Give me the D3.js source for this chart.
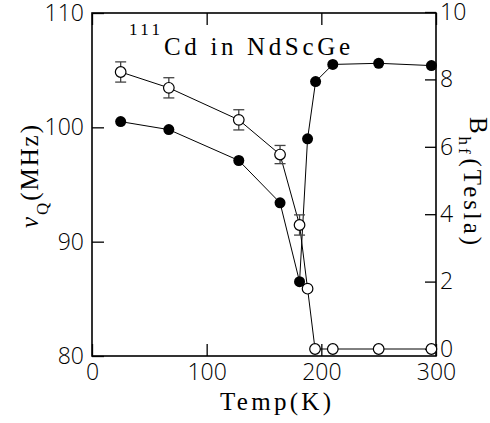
<!DOCTYPE html>
<html>
<head>
<meta charset="utf-8">
<script src="https://cdn.jsdelivr.net/npm/d3@7"></script>
<style>
  body { margin: 0; background: #fff; }
  .tickfont text { font-family: "Open Sans", "DejaVu Sans", sans-serif; font-weight: 300; font-size: 23px; fill: #000; }
  .serif { font-family: "Liberation Serif", "DejaVu Serif", serif; fill: #000; }
</style>
</head>
<body>
<div id="chart"></div>
<script>
// temperatures (K) and values
var tempNu = [25, 67, 128, 164, 181, 188, 195, 210, 250, 296];
var nuQ = [100.5, 99.8, 97.1, 93.4, 86.5, 99.0, 104.0, 105.5, 105.6, 105.4];   // MHz, filled circles

var tempB = [25, 67, 128, 164, 181, 188, 194.5, 210, 250, 296];
var bhf = [8.22, 7.75, 6.80, 5.77, 3.68, 1.79, 0, 0, 0, 0];                    // Tesla, open circles
var bhfErr = [0.3, 0.3, 0.3, 0.27, 0.3, 0, 0, 0, 0, 0];

var xTicks = [0, 100, 200, 300];
var nuTicks = [80, 90, 100, 110];
var bTicks = [0, 2, 4, 6, 8, 10];

var svgWidth = 490;
var svgHeight = 423;

var svg = d3.select("#chart")
  .append("svg")
  .attr("width", svgWidth)
  .attr("height", svgHeight);

var x = d3.scaleLinear().domain([0, 300]).range([92, 436]);
var yNu = d3.scaleLinear().domain([80, 110]).range([356, 13]);
var yB = d3.scaleLinear().domain([0, 10]).range([349, 12]);

// frame
svg.append("rect")
  .attr("x", 92).attr("y", 13)
  .attr("width", 344).attr("height", 343)
  .attr("fill", "none")
  .attr("stroke", "#000")
  .attr("stroke-width", 1.6);

// axes with inward ticks
function styleAxis(g) {
  g.select(".domain").remove();
  g.selectAll(".tick line").attr("stroke", "#000").attr("stroke-width", 1.3);
}

svg.append("g").attr("class", "tickfont")
  .attr("transform", "translate(0,356)")
  .call(d3.axisBottom(x).tickValues(xTicks).tickFormat(d3.format("d")).tickSizeInner(-12).tickSizeOuter(0).tickPadding(8))
  .call(styleAxis);

svg.append("g")
  .attr("transform", "translate(0,13)")
  .call(d3.axisTop(x).tickValues(xTicks).tickFormat("").tickSizeInner(-12).tickSizeOuter(0))
  .call(styleAxis);

svg.append("g").attr("class", "tickfont")
  .attr("transform", "translate(92,0)")
  .call(d3.axisLeft(yNu).tickValues(nuTicks).tickFormat(d3.format("d")).tickSizeInner(-12).tickSizeOuter(0).tickPadding(8))
  .call(styleAxis);

svg.append("g").attr("class", "tickfont")
  .attr("transform", "translate(436,0)")
  .call(d3.axisRight(yB).tickValues(bTicks).tickFormat(d3.format("d")).tickSizeInner(-11).tickSizeOuter(0).tickPadding(4))
  .call(styleAxis);

svg.selectAll(".tickfont .tick text").attr("font-family", null).attr("font-size", null);

// lines
var nuData = tempNu.map(function(t, i) { return {t: t, v: nuQ[i]}; });
var bData = tempB.map(function(t, i) { return {t: t, v: bhf[i], e: bhfErr[i]}; });

svg.append("path")
  .datum(bData)
  .attr("fill", "none").attr("stroke", "#000").attr("stroke-width", 1)
  .attr("d", d3.line().x(d => x(d.t)).y(d => yB(d.v)));

svg.append("path")
  .datum(nuData)
  .attr("fill", "none").attr("stroke", "#000").attr("stroke-width", 1)
  .attr("d", d3.line().x(d => x(d.t)).y(d => yNu(d.v)));

// error bars
var eb = svg.append("g").attr("stroke", "#444").attr("stroke-width", 1.3);
bData.filter(d => d.e > 0).forEach(function(d) {
  var cx = x(d.t);
  eb.append("line").attr("x1", cx).attr("x2", cx).attr("y1", yB(d.v - d.e)).attr("y2", yB(d.v + d.e));
  eb.append("line").attr("x1", cx - 5.5).attr("x2", cx + 5.5).attr("y1", yB(d.v - d.e)).attr("y2", yB(d.v - d.e));
  eb.append("line").attr("x1", cx - 5.5).attr("x2", cx + 5.5).attr("y1", yB(d.v + d.e)).attr("y2", yB(d.v + d.e));
});

// markers
svg.selectAll("circle.nu").data(nuData).enter().append("circle")
  .attr("class", "nu")
  .attr("cx", d => x(d.t))
  .attr("cy", d => yNu(d.v))
  .attr("r", 5.5)
  .attr("fill", "#000");

svg.selectAll("circle.b").data(bData).enter().append("circle")
  .attr("class", "b")
  .attr("cx", d => x(d.t))
  .attr("cy", d => yB(d.v))
  .attr("r", 5.3)
  .attr("fill", "#fff")
  .attr("stroke", "#000")
  .attr("stroke-width", 1.2);

// annotation
svg.append("text").attr("class", "serif")
  .attr("x", 129).attr("y", 35)
  .style("font-size", "17px")
  .attr("textLength", 31).attr("lengthAdjust", "spacing")
  .text("111");

svg.append("text").attr("class", "serif")
  .attr("x", 164).attr("y", 55)
  .style("font-size", "25px")
  .attr("textLength", 186).attr("lengthAdjust", "spacing")
  .text("Cd in NdScGe");

// axis titles
svg.append("text").attr("class", "serif")
  .attr("x", 220).attr("y", 410)
  .style("font-size", "25px")
  .attr("textLength", 111).attr("lengthAdjust", "spacing")
  .text("Temp(K)");

var lt = svg.append("text").attr("class", "serif")
  .attr("transform", "translate(38,228) rotate(-90)")
  .style("font-size", "25px")
  .attr("textLength", 103).attr("lengthAdjust", "spacing");
lt.append("tspan").style("font-style", "italic").text("ν");
lt.append("tspan").attr("dy", 10).style("font-size", "17px").text("Q");
lt.append("tspan").attr("dy", -10).text("(MHz)");

var rt = svg.append("text").attr("class", "serif")
  .attr("transform", "translate(470,117) rotate(90)")
  .style("font-size", "25px")
  .attr("textLength", 128).attr("lengthAdjust", "spacing");
rt.append("tspan").text("B");
rt.append("tspan").attr("dy", 11).style("font-size", "17px").text("hf");
rt.append("tspan").attr("dy", -5).attr("dx", 2).text("(Tesla)");
</script>
</body>
</html>
